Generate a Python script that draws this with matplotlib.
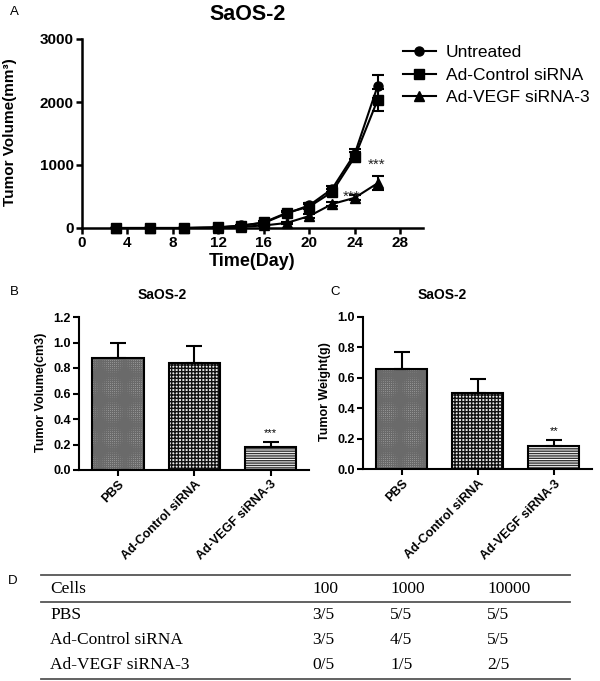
import numpy as np
import matplotlib.pyplot as plt
from matplotlib.lines import Line2D

plt.rcParams['font.family'] = ['Liberation Sans', 'DejaVu Sans']
plt.rcParams['hatch.linewidth'] = 1.0

# Datos del panel A (volumen tumoral por dia)
dias = [3, 6, 9, 12, 14, 16, 18, 20, 22, 24, 26]
untreated = [0, 0, 0, 10, 40, 80, 230, 360, 620, 1180, 2250]
untreated_err = [0, 0, 0, 5, 10, 15, 30, 40, 50, 80, 180]
control = [0, 0, 0, 10, 35, 90, 240, 340, 570, 1130, 2030]
control_err = [0, 0, 0, 5, 10, 15, 30, 40, 50, 80, 170]
vegf = [0, 0, 0, 5, 20, 40, 80, 190, 380, 480, 710]
vegf_err = [0, 0, 0, 3, 5, 10, 15, 25, 30, 40, 110]
series = ['Untreated', 'Ad-Control siRNA', 'Ad-VEGF siRNA-3']

# Datos de los paneles B y C
grupos = ['PBS', 'Ad-Control siRNA', 'Ad-VEGF siRNA-3']
volumen = [0.88, 0.84, 0.18]
volumen_err = [0.12, 0.13, 0.04]
peso = [0.66, 0.50, 0.15]
peso_err = [0.11, 0.09, 0.045]

# Datos del panel D (tabla)
celulas = ['100', '1000', '10000']
filas = ['PBS', 'Ad-Control siRNA', 'Ad-VEGF siRNA-3']
tumores = [['3/5', '5/5', '5/5'],
           ['3/5', '4/5', '5/5'],
           ['0/5', '1/5', '2/5']]

W, H = 600, 681
fig = plt.figure(figsize=(W / 100, H / 100), dpi=100)


def caja(x0, y0, x1, y1):
    # convierte pixeles (origen arriba-izquierda) a coordenadas de figura
    return [x0 / W, 1 - y1 / H, (x1 - x0) / W, (y1 - y0) / H]


def estilo(ax, size, lw=1.5):
    for s in ['top', 'right']:
        ax.spines[s].set_visible(False)
    for s in ['left', 'bottom']:
        ax.spines[s].set_linewidth(lw)
    ax.tick_params(direction='out', length=4, width=lw, labelsize=size, pad=2)
    for lab in ax.get_xticklabels() + ax.get_yticklabels():
        lab.set_fontweight('bold')


# ---------------- Panel A ----------------
ax1 = fig.add_axes(caja(82, 39, 423, 228))
marcas = ['o', 's', '^']
for vals, err, m, nombre in zip([untreated, control, vegf],
                                [untreated_err, control_err, vegf_err],
                                marcas, series):
    ax1.errorbar(dias, vals, yerr=err, color='black', marker=m, ms=6.5, lw=1.5,
                 elinewidth=1.5, capsize=4, capthick=1.5, clip_on=False, label=nombre)
ax1.set_xlim(0, 30)
ax1.set_ylim(0, 3000)
ax1.set_xticks(range(0, 29, 4))
ax1.set_yticks([0, 1000, 2000, 3000])
estilo(ax1, 11, lw=1.8)
ax1.set_xlabel('Time(Day)', fontsize=13, fontweight='bold', labelpad=2)
ax1.set_ylabel('Tumor Volume(mm³)', fontsize=11, fontweight='bold')
ax1.yaxis.set_label_coords(17 / W, 1 - 132 / H, transform=fig.transFigure)
ax1.text(25.9, 1000, '***', ha='center', va='center', fontsize=11, color='#222')
ax1.text(23.7, 500, '***', ha='center', va='center', fontsize=11, color='#222')

manijas = [Line2D([], [], color='black', marker=m, ms=6.5, lw=1.5) for m in marcas]
ax1.legend(manijas, series, loc='upper left', bbox_to_anchor=(403 / W, 1 - 45 / H),
           bbox_transform=fig.transFigure, frameon=False, fontsize=12.5,
           handlelength=1.9, handletextpad=0.55, labelspacing=0.42,
           borderpad=0, borderaxespad=0)

fig.text(248 / W, 1 - 15 / H, 'SaOS-2', ha='center', va='center', fontsize=15.5, fontweight='bold')
fig.text(10 / W, 1 - 12 / H, 'A', ha='left', va='center', fontsize=9.5)

# ---------------- Paneles B y C ----------------
tramas = ['++++++++', '+++++', '-------']
fondos = ['#d4d4d4', '#e8e8e8', 'white']
lineas = ['#6a6a6a', '#111111', '#333333']


def barras(ax, vals, errs, ymax, ticks, ylabel):
    x = np.arange(len(vals))
    for xi, v, f, t, c in zip(x, vals, fondos, tramas, lineas):
        ax.bar(xi, v, width=0.67, color=f, hatch=t, edgecolor=c, linewidth=0)
    ax.bar(x, vals, width=0.67, fill=False, edgecolor='black', linewidth=1.5)
    ax.errorbar(x, vals, yerr=[np.zeros(len(errs)), errs], fmt='none', ecolor='black',
                elinewidth=1.5, capsize=6, capthick=1.5)
    ax.set_xlim(-0.51, 2.5)
    ax.set_ylim(0, ymax)
    ax.set_yticks(ticks)
    ax.set_yticklabels([f'{t:.1f}' for t in ticks])
    ax.set_xticks(x)
    ax.set_xticklabels(grupos, rotation=45, ha='right', va='top', rotation_mode='anchor',
                       fontsize=9.4)
    estilo(ax, 9)
    ax.set_ylabel(ylabel, fontsize=9, fontweight='bold')


ax2 = fig.add_axes(caja(79, 317, 309, 470))
barras(ax2, volumen, volumen_err, 1.2, [0, 0.2, 0.4, 0.6, 0.8, 1.0, 1.2], 'Tumor Volume(cm3)')
ax2.yaxis.set_label_coords(47 / W, 1 - 392 / H, transform=fig.transFigure)
ax2.text(2, volumen[2] + volumen_err[2] + 0.03, '***', ha='center', va='bottom', fontsize=8)

ax3 = fig.add_axes(caja(363, 316.7, 592, 469.3))
barras(ax3, peso, peso_err, 1.0, [0, 0.2, 0.4, 0.6, 0.8, 1.0], 'Tumor Weight(g)')
ax3.yaxis.set_label_coords(331 / W, 1 - 392 / H, transform=fig.transFigure)
ax3.text(2, peso[2] + peso_err[2] + 0.025, '**', ha='center', va='bottom', fontsize=8)

fig.text(162 / W, 1 - 295 / H, 'SaOS-2', ha='center', va='center', fontsize=10, fontweight='bold')
fig.text(442 / W, 1 - 295 / H, 'SaOS-2', ha='center', va='center', fontsize=10, fontweight='bold')
fig.text(10 / W, 1 - 292 / H, 'B', ha='left', va='center', fontsize=9.5)
fig.text(330 / W, 1 - 292 / H, 'C', ha='left', va='center', fontsize=9.5)

# ---------------- Panel D (tabla) ----------------
fig.text(8 / W, 1 - 581 / H, 'D', ha='left', va='center', fontsize=9.5)
serif = ['Liberation Serif', 'DejaVu Serif']
col_x = [312, 390, 487]
fila_y = [615, 640, 665]
fig.text(50 / W, 1 - 589 / H, 'Cells', ha='left', va='center', fontsize=12.5, family=serif)
for cx, c in zip(col_x, celulas):
    fig.text(cx / W, 1 - 589 / H, c, ha='left', va='center', fontsize=12.5, family=serif)
for fy, nombre, valores in zip(fila_y, filas, tumores):
    fig.text(50 / W, 1 - fy / H, nombre, ha='left', va='center', fontsize=12.5, family=serif)
    for cx, v in zip(col_x, valores):
        fig.text(cx / W, 1 - fy / H, v, ha='left', va='center', fontsize=12.5, family=serif)
for ly in [575, 602, 679]:
    fig.add_artist(Line2D([41 / W, 570 / W], [1 - ly / H, 1 - ly / H], color='#555555', lw=1.3))

fig.savefig('out.png', dpi=100)
